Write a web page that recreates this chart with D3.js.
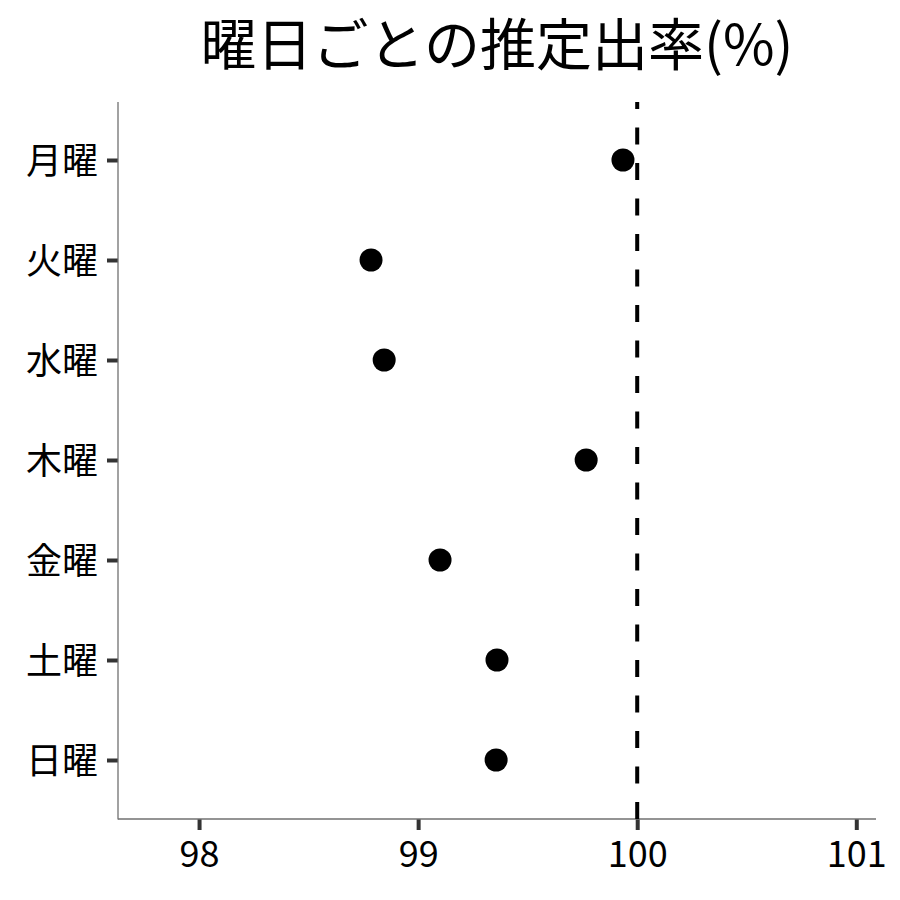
<!DOCTYPE html>
<html><head><meta charset="utf-8">
<script src="https://cdn.jsdelivr.net/npm/d3@7"></script>
<style>body{margin:0;background:#fff}svg{display:block}text{font-family:"Noto Sans CJK JP","Noto Sans",sans-serif}</style>
</head><body><svg id="c" width="900" height="900"></svg>
<script>
const days = ["月曜","火曜","水曜","木曜","金曜","土曜","日曜"];
const rates = [99.935, 98.785, 98.845, 99.767, 99.10, 99.36, 99.356];
const xTicks = [98, 99, 100, 101];
const refValue = 100;
const title = "曜日ごとの推定出率(%)";

const FONT = '"Noto Sans CJK JP","Noto Sans",sans-serif';
const svg = d3.select("#c");
const m = {l:118, r:24, t:102, b:81};
const W = 900, H = 900;
const x = d3.scaleLinear().domain([97.63, 101.09]).range([m.l, W - m.r]);
const y = d3.scalePoint().domain(days).range([160, 760]);

svg.append("text").attr("x", (m.l + W - m.r)/2).attr("y", 65)
  .attr("text-anchor","middle").attr("font-size", 56).attr("font-family", FONT).attr("fill","#000").text(title);

// axes
const xa = svg.append("g").attr("transform", `translate(0,${H-m.b})`)
  .call(d3.axisBottom(x).tickValues(xTicks).tickSize(11).tickFormat(d3.format("d")));
const ya = svg.append("g").attr("transform", `translate(${m.l},0)`)
  .call(d3.axisLeft(y).tickSize(11).tickPadding(9));
ya.select(".domain").remove();
xa.select(".domain").remove();
[xa, ya].forEach(g => {
  g.attr("font-size", 36).attr("font-family", FONT);
  g.selectAll(".tick line").attr("stroke","#333").attr("stroke-width",4);
  g.selectAll(".tick text").attr("fill","#000").attr("font-size",36).attr("font-family",FONT);
});
ya.selectAll(".tick text").attr("dy","0.37em");
xa.selectAll(".tick text").attr("y", 48).attr("dy","0");
svg.append("line").attr("x1", m.l).attr("x2", m.l).attr("y1", m.t).attr("y2", H-m.b+0.6).attr("stroke","#707070").attr("stroke-width",1.3);
svg.append("line").attr("x1", m.l).attr("x2", W-m.r).attr("y1", H-m.b).attr("y2", H-m.b).attr("stroke","#707070").attr("stroke-width",1.3);

// reference line (drawn bottom to top)
svg.append("line").attr("x1", x(refValue)).attr("x2", x(refValue)).attr("y1", H-m.b).attr("y2", m.t)
  .attr("stroke","#000").attr("stroke-width",4).attr("stroke-dasharray","17,18.5");

// points
svg.append("g").selectAll("circle").data(days).join("circle")
  .attr("cx", (d,i) => x(rates[i])).attr("cy", d => y(d)).attr("r", 11.5).attr("fill","#000");
</script></body></html>
